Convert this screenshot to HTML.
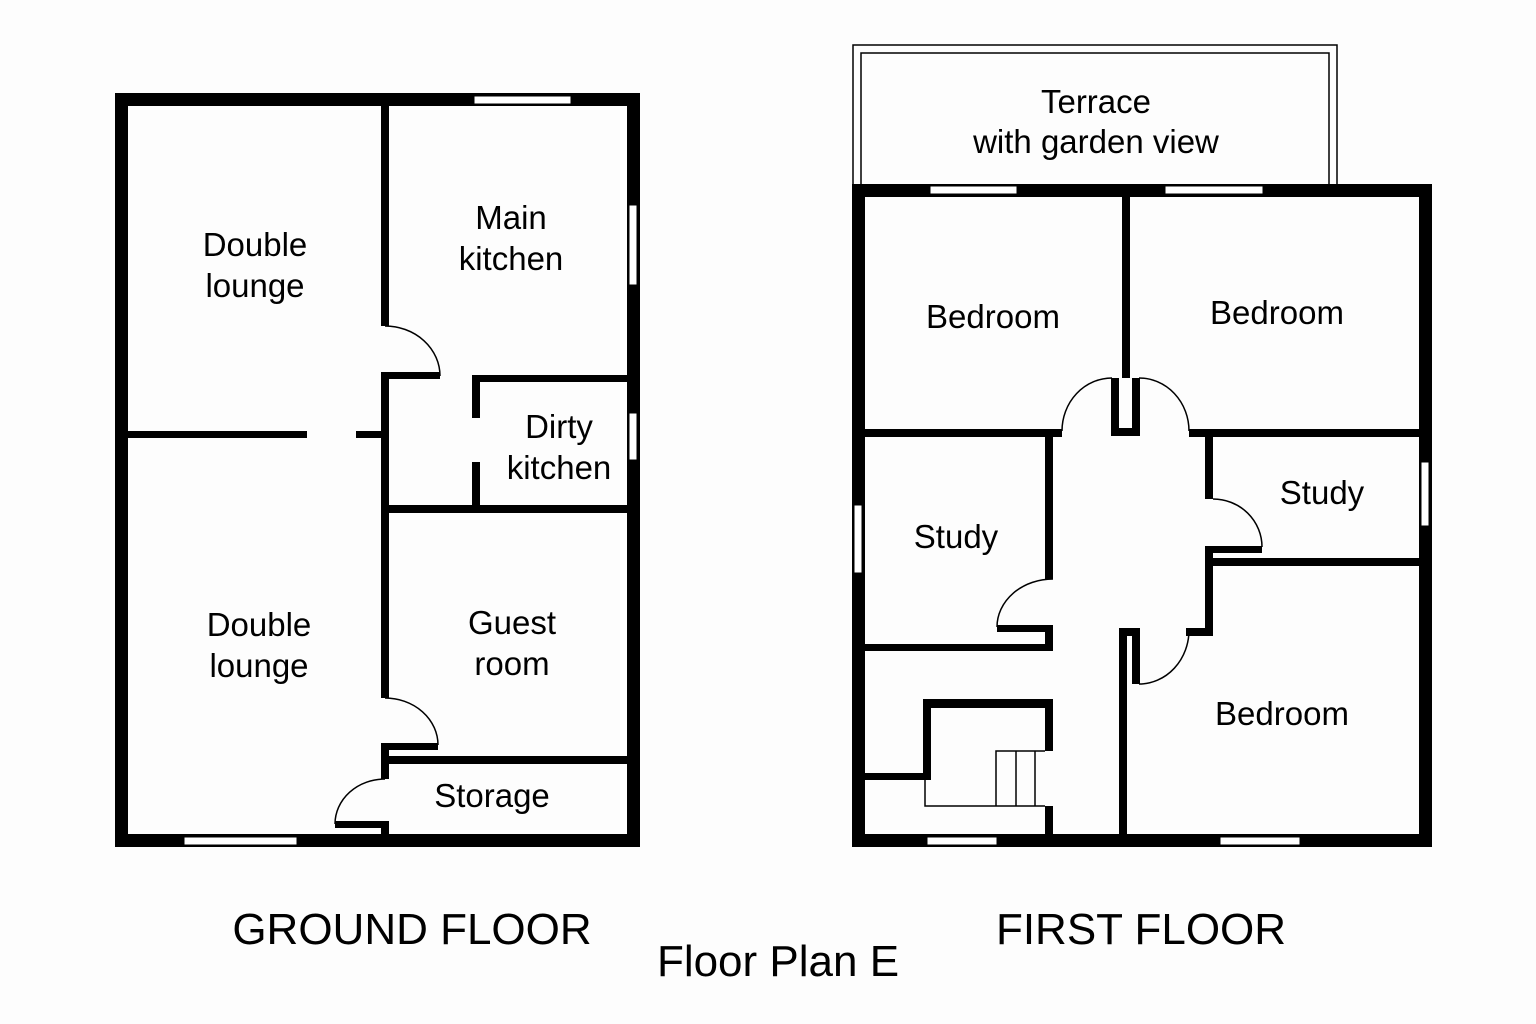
<!DOCTYPE html>
<html><head><meta charset="utf-8"><style>
html,body{margin:0;padding:0;background:#fff;}
svg{display:block;}
text{font-family:"Liberation Sans",sans-serif;fill:#000;text-anchor:middle;}
</style></head><body>
<svg width="1536" height="1024" viewBox="0 0 1536 1024" xmlns="http://www.w3.org/2000/svg">
<rect width="1536" height="1024" fill="#fdfdfd"/>
<g fill="#000">
<!-- GROUND FLOOR outer -->
<rect x="115" y="93" width="525" height="13"/>
<rect x="115" y="834" width="525" height="13"/>
<rect x="115" y="93" width="13" height="754"/>
<rect x="627" y="93" width="13" height="754"/>
<!-- interior walls -->
<rect x="381" y="106" width="8" height="220"/>
<rect x="381" y="372" width="59" height="7"/>
<rect x="381" y="372" width="8" height="326"/>
<rect x="128" y="431" width="179" height="7"/>
<rect x="356" y="431" width="28" height="7"/>
<rect x="472" y="375" width="155" height="7"/>
<rect x="472" y="375" width="8" height="43"/>
<rect x="472" y="462" width="8" height="48"/>
<rect x="384" y="505" width="243" height="8"/>
<rect x="381" y="743" width="57" height="7"/>
<rect x="381" y="743" width="8" height="36"/>
<rect x="384" y="756" width="243" height="8"/>
<rect x="335" y="821" width="54" height="7"/>
<rect x="381" y="821" width="8" height="15"/>

<!-- FIRST FLOOR outer -->
<rect x="852" y="184" width="580" height="13"/>
<rect x="852" y="834" width="580" height="13"/>
<rect x="852" y="184" width="13" height="663"/>
<rect x="1419" y="184" width="13" height="663"/>
<!-- bedroom dividers -->
<rect x="1122" y="197" width="8" height="181"/>
<rect x="1111" y="378" width="8" height="58"/>
<rect x="1132" y="378" width="8" height="58"/>
<rect x="1111" y="428" width="29" height="8"/>
<rect x="865" y="429" width="197" height="8"/>
<rect x="1189" y="429" width="230" height="8"/>
<!-- left study -->
<rect x="1045" y="436" width="8" height="143"/>
<rect x="997" y="625" width="56" height="7"/>
<rect x="1045" y="625" width="8" height="26"/>
<rect x="865" y="644" width="188" height="7"/>
<!-- right study -->
<rect x="1205" y="436" width="8" height="63"/>
<rect x="1205" y="546" width="57" height="7"/>
<rect x="1205" y="546" width="8" height="90"/>
<rect x="1213" y="558" width="206" height="8"/>
<rect x="1186" y="628" width="27" height="8"/>
<!-- right bedroom wall -->
<rect x="1119" y="628" width="21" height="8"/>
<rect x="1119" y="628" width="8" height="206"/>
<rect x="1132" y="628" width="8" height="56"/>
<!-- stairs box -->
<rect x="1045" y="699" width="8" height="52"/>
<rect x="1045" y="806" width="8" height="30"/>
<rect x="923" y="699" width="130" height="9"/>
<rect x="923" y="699" width="8" height="81"/>
<rect x="865" y="773" width="66" height="7"/>
</g>
<!-- windows -->
<g fill="#fff" stroke="#000" stroke-width="1">
<rect x="474" y="96" width="97" height="8"/>
<rect x="629" y="205" width="8" height="80"/>
<rect x="629" y="413" width="8" height="47"/>
<rect x="184" y="837" width="113" height="8"/>
<rect x="930" y="186" width="87" height="8"/>
<rect x="1165" y="186" width="98" height="8"/>
<rect x="854" y="505" width="8" height="68"/>
<rect x="1421" y="462" width="8" height="64"/>
<rect x="927" y="837" width="70" height="8"/>
<rect x="1220" y="837" width="80" height="8"/>
</g>
<!-- terrace -->
<g fill="none" stroke="#000" stroke-width="1.5">
<polyline points="853,184 853,45 1337,45 1337,184"/>
<polyline points="861,184 861,53 1329,53 1329,184"/>
</g>
<!-- door arcs -->
<g fill="none" stroke="#000" stroke-width="1.5">
<path d="M385,326 A55,50 0 0 1 440,376"/>
<path d="M385,698 A53,47 0 0 1 438,745"/>
<path d="M385,779 A50,45 0 0 0 335,824"/>
<path d="M1062,431 A50,53 0 0 1 1112,378"/>
<path d="M1139,378 A50,53 0 0 1 1189,431"/>
<path d="M1053,579 A56,48 0 0 0 997,627"/>
<path d="M1213,499 A49,48 0 0 1 1262,547"/>
<path d="M1189,630 A50,54 0 0 1 1139,684"/>
<!-- stairs -->
<polyline points="925,780 925,806 1045,806"/>
<polyline points="996,806 996,751 1045,751"/>
<line x1="1016" y1="751" x2="1016" y2="806"/>
<line x1="1035" y1="751" x2="1035" y2="806"/>
</g>
<!-- labels -->
<g font-size="33">
<text x="255" y="256">Double</text>
<text x="255" y="297">lounge</text>
<text x="511" y="229">Main</text>
<text x="511" y="270">kitchen</text>
<text x="559" y="438">Dirty</text>
<text x="559" y="479">kitchen</text>
<text x="259" y="636">Double</text>
<text x="259" y="677">lounge</text>
<text x="512" y="634">Guest</text>
<text x="512" y="675">room</text>
<text x="492" y="807">Storage</text>
<text x="1096" y="113">Terrace</text>
<text x="1096" y="153">with garden view</text>
<text x="993" y="328">Bedroom</text>
<text x="1277" y="324">Bedroom</text>
<text x="956" y="548">Study</text>
<text x="1322" y="504">Study</text>
<text x="1282" y="725">Bedroom</text>
</g>
<g font-size="44">
<text x="412" y="944">GROUND FLOOR</text>
<text x="1141" y="944">FIRST FLOOR</text>
<text x="778" y="976">Floor Plan E</text>
</g>
</svg>
</body></html>
